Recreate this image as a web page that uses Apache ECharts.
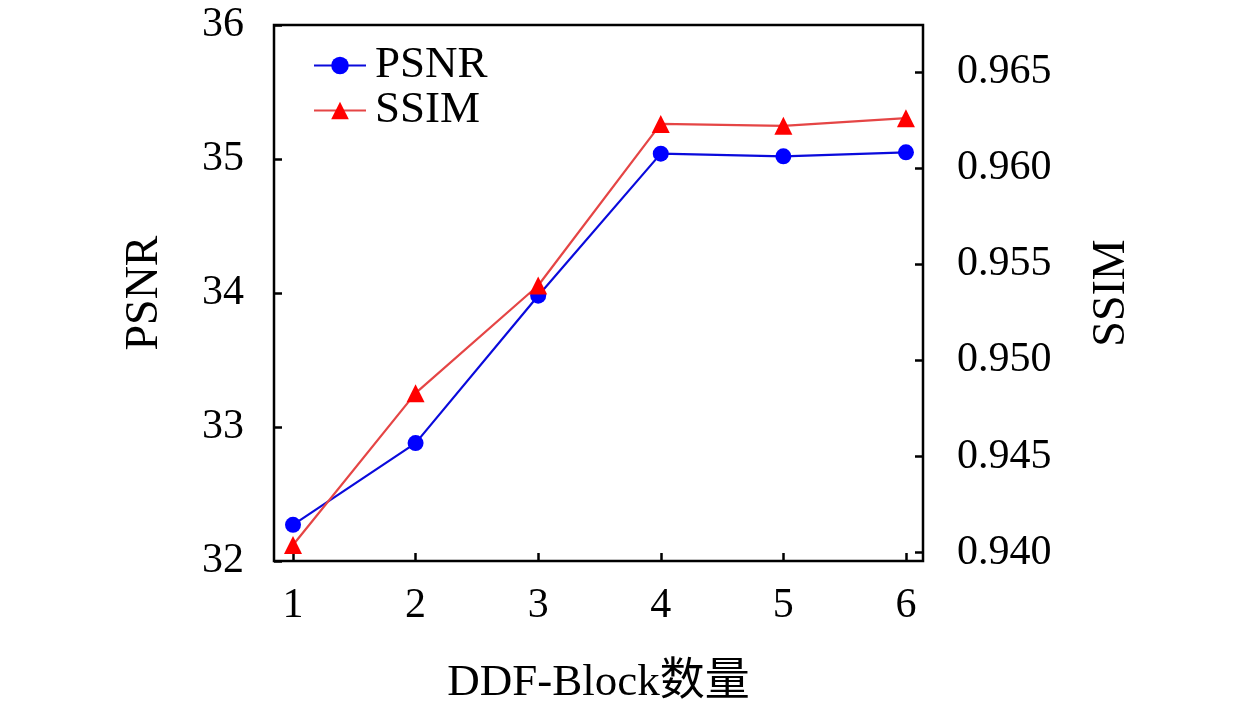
<!DOCTYPE html>
<html>
<head>
<meta charset="utf-8">
<script src="https://cdn.jsdelivr.net/npm/echarts@6/dist/echarts.min.js"></script>
<style>
  html, body { margin: 0; padding: 0; background: #fff; }
  #main { width: 1260px; height: 711px; }
</style>
</head>
<body>
<div id="main"></div>
<script>
// block counts on x
var blocks = [1, 2, 3, 4, 5, 6];
// values
var psnr = [32.27, 32.88, 33.98, 35.04, 35.02, 35.05];
var ssim = [0.9404, 0.9483, 0.9539, 0.9623, 0.9622, 0.9626];
// right axis tick labels
var ssimTicks = [0.940, 0.945, 0.950, 0.955, 0.960, 0.965];

var FONT = '"Liberation Serif", "Noto Sans CJK SC", serif';

function pairs(xs, ys) {
  return xs.map(function (x, i) { return [x, ys[i]]; });
}

var chart = echarts.init(document.getElementById('main'));

var option = {
  backgroundColor: '#ffffff',
  animation: false,
  textStyle: { fontFamily: FONT },
  grid: {
    left: 274, right: 337, top: 25, bottom: 147,
    show: true, borderColor: '#000', borderWidth: 2.5, backgroundColor: 'transparent'
  },
  legend: {
    left: 308, top: 38,
    orient: 'vertical',
    itemWidth: 52, itemHeight: 22, itemGap: 0,
    textStyle: { fontFamily: FONT, fontSize: 45, color: '#000', padding: [0, 0, 0, 4] },
    data: ['PSNR', 'SSIM']
  },
  xAxis: {
    type: 'value',
    min: 0.845, max: 6.139,
    name: 'DDF-Block数量',
    nameLocation: 'middle',
    nameGap: 100,
    nameTextStyle: { fontFamily: FONT, fontSize: 45, color: '#000' },
    axisLine: { show: false },
    axisTick: { show: true, inside: true, length: 8, lineStyle: { color: '#000', width: 2.5 }, customValues: blocks },
    axisLabel: { fontFamily: FONT, fontSize: 42, color: '#000', margin: 24, customValues: blocks },
    splitLine: { show: false }
  },
  yAxis: [{
    type: 'value',
    min: 32, max: 36, interval: 1,
    name: 'PSNR',
    nameLocation: 'middle',
    nameRotate: 90,
    nameGap: 106,
    nameTextStyle: { fontFamily: FONT, fontSize: 46, color: '#000' },
    axisLine: { show: false },
    axisTick: { show: true, inside: true, length: 8, lineStyle: { color: '#000', width: 2.5 } },
    axisLabel: { fontFamily: FONT, fontSize: 42, color: '#000', margin: 30 },
    splitLine: { show: false }
  }, {
    type: 'value',
    position: 'right',
    min: 0.93957, max: 0.967446,
    name: 'SSIM',
    nameLocation: 'middle',
    nameRotate: 90,
    nameGap: 166,
    nameTextStyle: { fontFamily: FONT, fontSize: 46, color: '#000' },
    axisLine: { show: false },
    axisTick: { show: true, inside: true, length: 8, lineStyle: { color: '#000', width: 2.5 }, customValues: ssimTicks },
    axisLabel: {
      fontFamily: FONT, fontSize: 42, color: '#000', margin: 34,
      customValues: ssimTicks,
      formatter: function (v) { return v.toFixed(3); }
    },
    splitLine: { show: false }
  }],
  series: [{
    name: 'PSNR',
    type: 'line',
    yAxisIndex: 0,
    data: pairs(blocks, psnr),
    symbol: 'circle',
    symbolSize: 16,
    lineStyle: { color: '#0a0adc', width: 2.2 },
    itemStyle: { color: '#0000ff' },
    z: 3
  }, {
    name: 'SSIM',
    type: 'line',
    yAxisIndex: 1,
    data: pairs(blocks, ssim),
    symbol: 'triangle',
    symbolSize: 18,
    lineStyle: { color: '#e54545', width: 2.2 },
    itemStyle: { color: '#ff0000' },
    z: 4
  }]
};

chart.setOption(option);
</script>
</body>
</html>
